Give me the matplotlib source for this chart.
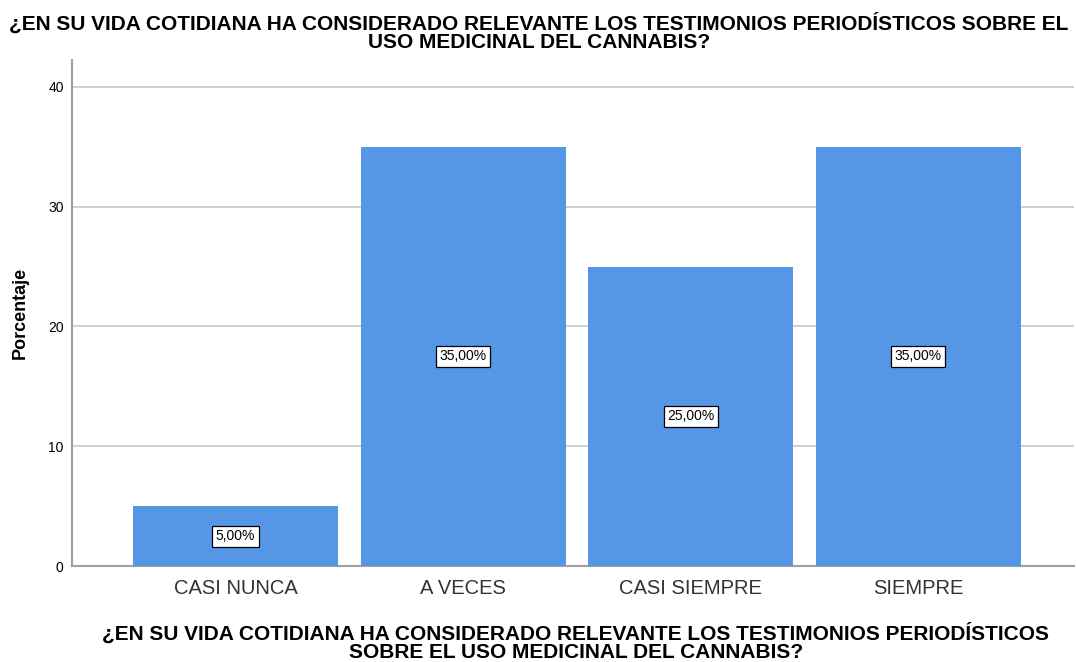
import matplotlib.pyplot as plt

categorias = ['CASI NUNCA', 'A VECES', 'CASI SIEMPRE', 'SIEMPRE']
porcentajes = [5.0, 35.0, 25.0, 35.0]
ticks_y = [0, 10, 20, 30, 40]

titulo = ('¿EN SU VIDA COTIDIANA HA CONSIDERADO RELEVANTE LOS TESTIMONIOS PERIODÍSTICOS SOBRE EL\n'
          'USO MEDICINAL DEL CANNABIS?')
etiqueta_x = ('¿EN SU VIDA COTIDIANA HA CONSIDERADO RELEVANTE LOS TESTIMONIOS PERIODÍSTICOS\n'
              'SOBRE EL USO MEDICINAL DEL CANNABIS?')

plt.rcParams['font.family'] = ['Liberation Sans', 'DejaVu Sans']

W, H = 1076, 662
fig = plt.figure(figsize=(W / 100, H / 100), dpi=100)
ax = fig.add_axes([0.0669, 0.145, 0.9312, 0.7644])

pos = list(range(len(categorias)))
ax.bar(pos, porcentajes, width=0.9, color='#5596E6', zorder=3)

# etiquetas con recuadro en el centro de cada barra
for x, v in zip(pos, porcentajes):
    ax.text(x, v / 2, f'{v:.2f}%'.replace('.', ','), ha='center', va='center',
            fontsize=10, zorder=4,
            bbox=dict(boxstyle='square,pad=0.25', facecolor='white', edgecolor='black', linewidth=0.9))

ax.set_xlim(-0.719, 3.684)
ax.set_ylim(0, 42.25)
ax.set_yticks(ticks_y)
ax.set_xticks(pos)
ax.set_xticklabels(categorias, fontsize=14.5, color='#333333')
ax.tick_params(axis='y', labelsize=10, length=0, pad=6)
ax.tick_params(axis='x', length=0, pad=9)

ax.yaxis.grid(True, color='#c8c8c8', linewidth=1.2, zorder=0)
ax.set_axisbelow(True)
for s in ['top', 'right']:
    ax.spines[s].set_visible(False)
for s in ['left', 'bottom']:
    ax.spines[s].set_color('#a0a0a0')
    ax.spines[s].set_linewidth(1.5)

fig.text(20 / W, 1 - 313 / H, 'Porcentaje', rotation=90, ha='center', va='center',
         fontsize=13, fontweight='bold')
fig.text(539 / W, 1 - 32 / H, titulo, ha='center', va='center',
         fontsize=15, fontweight='bold', linespacing=0.98)
fig.text(576 / W, 1 - 642 / H, etiqueta_x, ha='center', va='center',
         fontsize=15, fontweight='bold', linespacing=0.98)

fig.savefig('out.png', dpi=100)
